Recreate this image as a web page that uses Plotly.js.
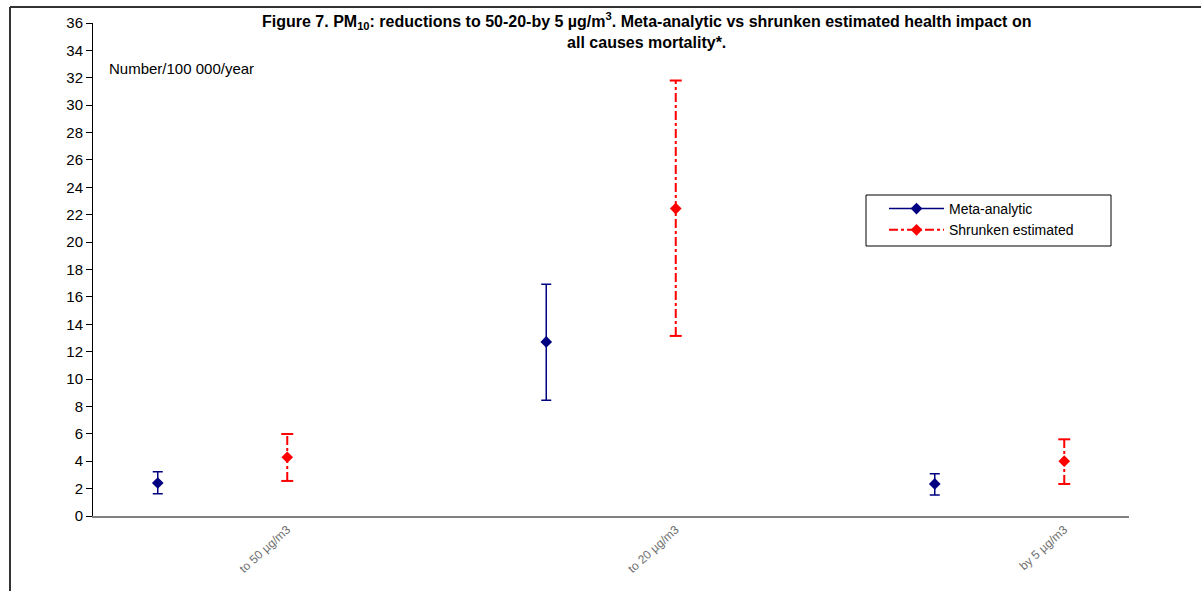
<!DOCTYPE html>
<html>
<head>
<meta charset="utf-8">
<script src="https://cdn.plot.ly/plotly-3.0.1.min.js"></script>
<style>html,body{margin:0;padding:0;background:#fff;}#chart{width:1201px;height:591px;}</style>
</head>
<body>
<div id="chart"></div>
<script>
// ---- data ----
const categories = ['to 50 µg/m3', 'to 20 µg/m3', 'by 5 µg/m3'];
const metaValue  = [2.41, 12.71, 2.34];
const metaLow    = [1.63, 8.45, 1.53];
const metaHigh   = [3.24, 16.92, 3.09];
const shrunkValue = [4.29, 22.45, 4.00];
const shrunkLow   = [2.56, 13.15, 2.34];
const shrunkHigh  = [5.99, 31.80, 5.60];
const seriesNames = ['Meta-analytic', 'Shrunken estimated'];

// ---- layout geometry (pixels) ----
const W = 1201, H = 591;
const L = 93, R = 1129, T = 23, B = 516;
const pw = R - L, ph = B - T;
const px2x = p => (p - L) / pw;
const px2y = p => (B - p) / ph;

// category slots: each category has a meta slot and a shrunk slot, then an empty slot
const metaX = categories.map((_, i) => 3 * i + 1);
const shrunkX = categories.map((_, i) => 3 * i + 2);
const slotPx = pw / 8;
const capHalf = 6 / slotPx;

function interleave(arr) {
  const out = [];
  arr.forEach((v, i) => { if (i > 0) out.push(null); out.push(v); });
  return out;
}

const blue = '#000080', red = '#FF0000';

const metaTrace = {
  type: 'scatter', mode: 'lines+markers', name: seriesNames[0],
  x: interleave(metaX), y: interleave(metaValue),
  connectgaps: false,
  line: {color: blue, width: 1.5},
  marker: {symbol: 'diamond', size: 9, color: blue},
  error_y: {
    type: 'data', symmetric: false,
    array: interleave(metaHigh.map((h, i) => h - metaValue[i])),
    arrayminus: interleave(metaLow.map((l, i) => metaValue[i] - l)),
    color: blue, thickness: 1.5, width: 5
  }
};

const stemX = [], stemY = [], capX = [], capY = [];
shrunkX.forEach((x, i) => {
  stemX.push(x, x, null); stemY.push(shrunkLow[i], shrunkHigh[i], null);
  capX.push(x - capHalf, x + capHalf, null, x - capHalf, x + capHalf, null);
  capY.push(shrunkHigh[i], shrunkHigh[i], null, shrunkLow[i], shrunkLow[i], null);
});

const shrunkStem = {
  type: 'scatter', mode: 'lines', x: stemX, y: stemY, showlegend: false, hoverinfo: 'skip',
  line: {color: red, width: 2, dash: 'dashdot'}
};
const shrunkCaps = {
  type: 'scatter', mode: 'lines', x: capX, y: capY, showlegend: false, hoverinfo: 'skip',
  line: {color: red, width: 2}
};
const shrunkTrace = {
  type: 'scatter', mode: 'lines+markers', name: seriesNames[1],
  x: interleave(shrunkX), y: interleave(shrunkValue), connectgaps: false,
  line: {color: red, width: 2, dash: 'dashdot'},
  marker: {symbol: 'diamond', size: 9, color: red}
};

const font = 'Liberation Sans, Arial, sans-serif';

const layout = {
  width: W, height: H,
  margin: {l: L, r: W - R, t: T, b: H - B, pad: 0},
  paper_bgcolor: '#fff', plot_bgcolor: '#fff',
  font: {family: font, color: '#000', size: 13},
  showlegend: true,
  legend: {
    x: px2x(884), y: px2y(193), xanchor: 'left', yanchor: 'top',
    bgcolor: 'rgba(0,0,0,0)', borderwidth: 0, itemwidth: 55,
    font: {family: font, size: 14, color: '#000'}
  },
  xaxis: {
    range: [0.5, 8.5], tickvals: shrunkX, ticktext: categories,
    tickangle: -42, tickfont: {family: font, size: 12, color: '#6e6e6e'},
    showline: true, linecolor: '#808080', linewidth: 2,
    ticks: '', showgrid: false, zeroline: false, fixedrange: true
  },
  yaxis: {
    range: [0, 36], dtick: 2, tick0: 0,
    ticks: 'outside', ticklen: 6, tickcolor: '#000', tickwidth: 1,
    tickfont: {family: font, size: 15, color: '#000'},
    showline: true, linecolor: '#000', linewidth: 1,
    showgrid: false, zeroline: false, fixedrange: true
  },
  annotations: [
    {xref: 'paper', yref: 'paper', x: px2x(646), y: px2y(8), xanchor: 'center', yanchor: 'top',
     showarrow: false, align: 'center',
     text: '<b>Figure 7. PM<sub>10</sub>: reductions to 50-20-by 5 µg/m<sup>3</sup>. Meta-analytic vs shrunken estimated health impact on<br>all causes mortality*.</b>',
     font: {family: font, size: 16, color: '#000'}},
    {xref: 'paper', yref: 'paper', x: px2x(107), y: px2y(68), xanchor: 'left', yanchor: 'middle',
     showarrow: false, text: 'Number/100 000/year', font: {family: font, size: 15, color: '#000'}}
  ],
  shapes: [
    {type: 'rect', xref: 'paper', yref: 'paper', x0: px2x(866), x1: px2x(1111), y0: px2y(246), y1: px2y(195),
     line: {color: '#000', width: 1}, fillcolor: 'rgba(0,0,0,0)'},
    {type: 'line', xref: 'paper', yref: 'paper', x0: px2x(10), x1: px2x(10), y0: px2y(7), y1: px2y(600),
     line: {color: '#333', width: 2}},
    {type: 'line', xref: 'paper', yref: 'paper', x0: px2x(10), x1: px2x(1210), y0: px2y(7), y1: px2y(7),
     line: {color: '#333', width: 2}}
  ]
};

Plotly.newPlot('chart', [shrunkStem, shrunkCaps, metaTrace, shrunkTrace], layout, {displayModeBar: false, staticPlot: true});
</script>
</body>
</html>
